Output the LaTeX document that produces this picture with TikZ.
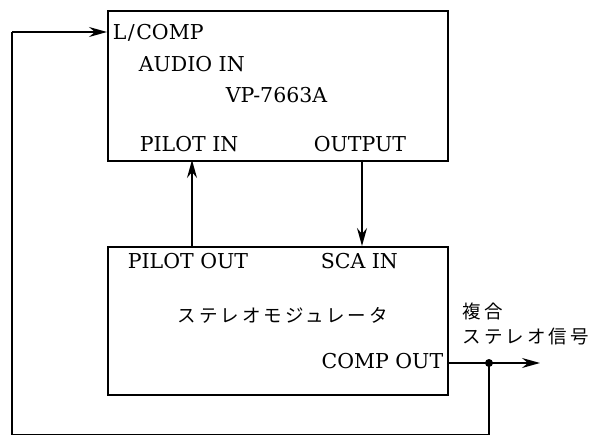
\documentclass[tikz,border=0pt]{standalone}
\usepackage{fontspec}
\setmainfont{DejaVu Serif}
\newfontfamily\cjk[LetterSpace=16]{Noto Sans CJK JP}
\usetikzlibrary{arrows.meta}
\begin{document}
\begin{tikzpicture}[x=1pt,y=-1pt,line width=1.6pt,
  arr/.style={-{Stealth[length=18pt,width=10pt,inset=6pt]}},
  lbl/.style={font=\fontsize{20.5}{24}\selectfont,inner sep=0,anchor=base west},
  jp/.style={font=\cjk\fontsize{18.5}{22}\selectfont,inner sep=0,anchor=west},
  box/.style={draw,line width=1.6pt,minimum width=340pt,anchor=north west,inner sep=0}]
\useasboundingbox (0,0) rectangle (594,435);
\node[box,minimum height=150pt] (vp) at (107,10) {};
\node[box,minimum height=148pt] (mod) at (107,246) {};
% labels in VP box
\node[lbl] (lcomp) at (112,39.5) {L\kern1.5pt/\kern1.5pt COMP};
\node[lbl] (audio) at (138,72) {AUDIO IN};
\node[lbl] (model) at (225,103) {VP-7663A};
\node[lbl] (pin) at (139,152) {PILOT IN};
\node[lbl] (outp) at (313,152) {OUTPUT};
% labels in modulator box
\node[lbl] (pout) at (127,269) {PILOT OUT};
\node[lbl] (sca) at (320,269) {SCA IN};
\node[jp] (modname) at (177,315) {ステレオモジュレータ};
\node[lbl,anchor=base east] (cout) at (444,368) {COMP OUT};
\node[jp] (fuku) at (462,311) {複合};
\node[jp] (stsig) at (462,337) {ステレオ信号};
% connector points
\coordinate (pilotA) at (192,246);
\coordinate (pilotB) at (192,160);
\coordinate (outA) at (362,160);
\coordinate (outB) at (362,246);
\coordinate (coutA) at (447,363);
\coordinate (dot) at (489,363);
\coordinate (coutB) at (540,363);
\coordinate (dotBot) at (489,434.5);
\coordinate (leftBot) at (12,434.5);
\coordinate (leftTop) at (12,32);
\coordinate (lin) at (107,32);
% connectors
\draw[arr] (pilotA) -- (pilotB);
\draw[arr] (outA) -- (outB);
\draw[arr] (coutA) -- (coutB);
\fill (dot) circle (4pt);
\draw (dot) -- (dotBot) -- (leftBot) -- (leftTop);
\draw[arr] (leftTop) -- (lin);
\end{tikzpicture}
\end{document}
